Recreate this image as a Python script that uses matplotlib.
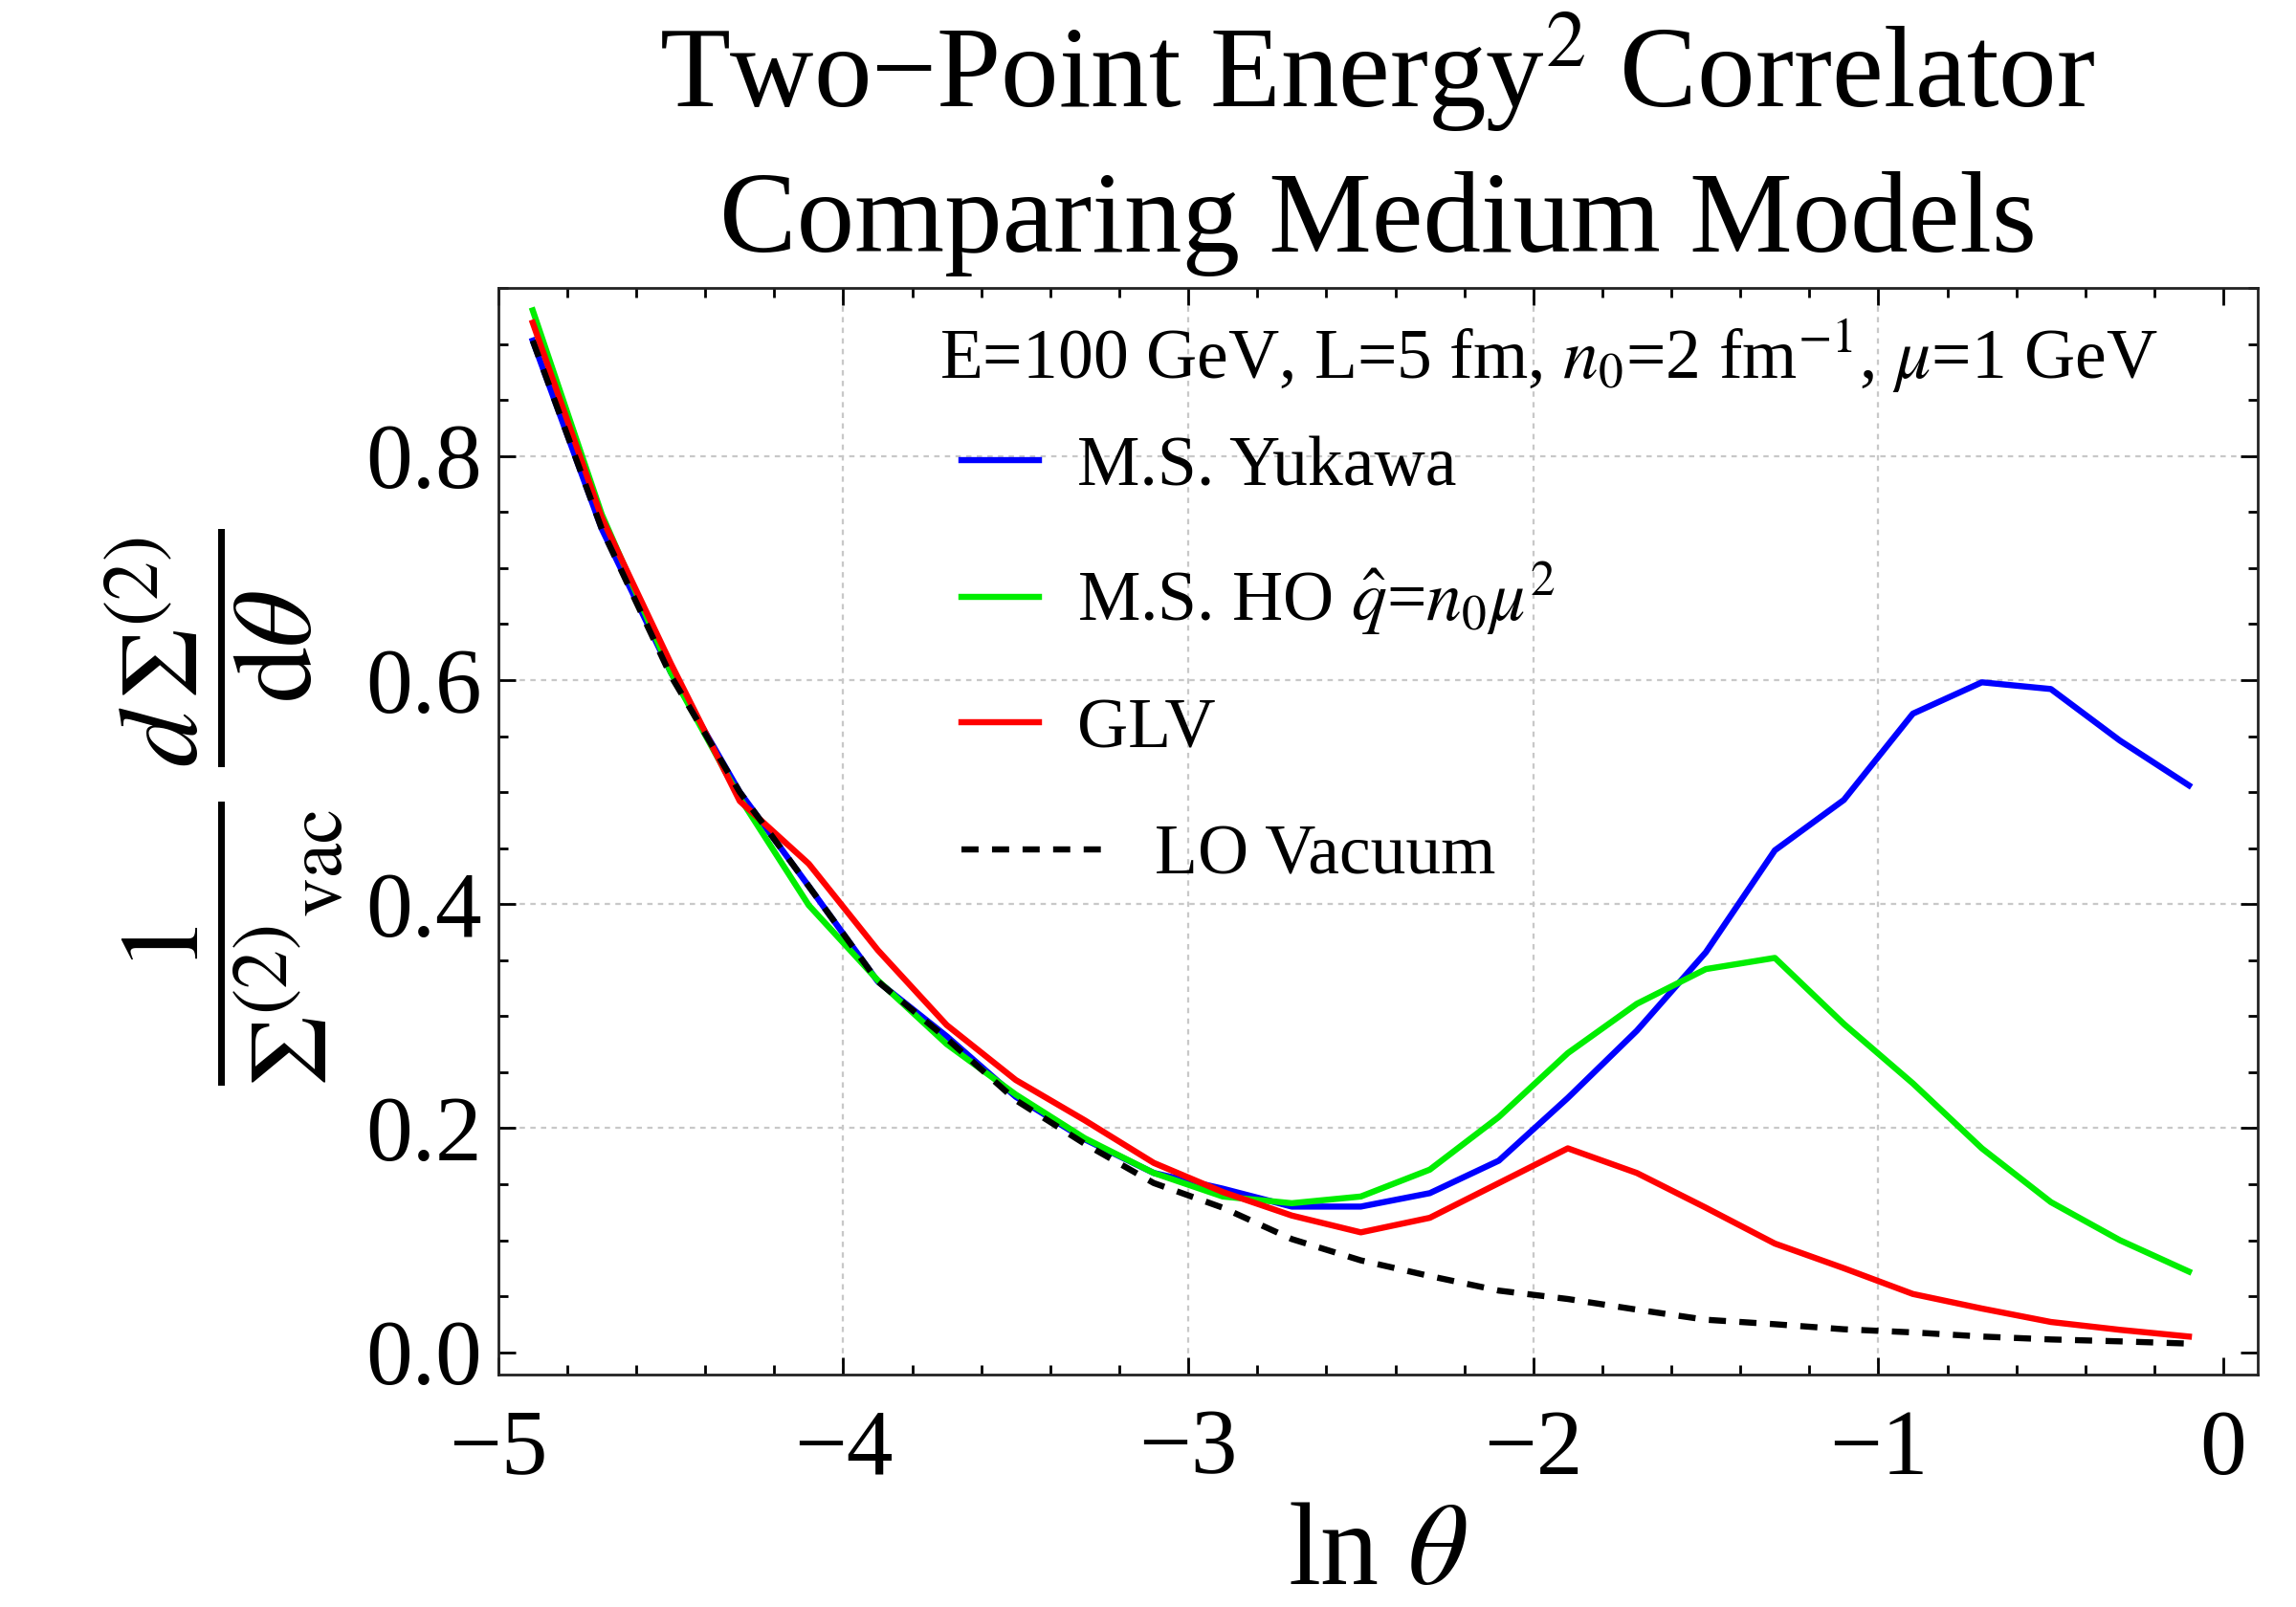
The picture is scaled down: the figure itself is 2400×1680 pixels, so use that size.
import matplotlib
matplotlib.use("Agg")
import matplotlib.pyplot as plt
from matplotlib.ticker import MultipleLocator, FormatStrFormatter

# ---- data ----
ln_theta = [-4.9, -4.7, -4.5, -4.3, -4.1, -3.9, -3.7, -3.5, -3.3, -3.1,
            -2.9, -2.7, -2.5, -2.3, -2.1, -1.9, -1.7, -1.5, -1.3, -1.1,
            -0.9, -0.7, -0.5, -0.3, -0.1]
ms_yukawa = [0.903, 0.735, 0.607, 0.500, 0.416, 0.331, 0.282, 0.228, 0.190, 0.160,
             0.146, 0.130, 0.130, 0.142, 0.171, 0.227, 0.287, 0.357, 0.448, 0.493,
             0.570, 0.598, 0.592, 0.546, 0.506]
ms_ho = [0.930, 0.748, 0.607, 0.495, 0.399, 0.332, 0.275, 0.230, 0.191, 0.160,
         0.139, 0.133, 0.139, 0.163, 0.210, 0.267, 0.311, 0.342, 0.352, 0.293,
         0.240, 0.182, 0.134, 0.100, 0.072]
glv = [0.919, 0.745, 0.615, 0.492, 0.436, 0.359, 0.292, 0.243, 0.207, 0.169,
       0.143, 0.122, 0.107, 0.120, 0.151, 0.182, 0.160, 0.129, 0.097, 0.075,
       0.052, 0.039, 0.027, 0.020, 0.014]
lo_vacuum = [0.903, 0.735, 0.604, 0.500, 0.416, 0.331, 0.280, 0.225, 0.186, 0.151,
             0.129, 0.101, 0.082, 0.068, 0.055, 0.0475, 0.038, 0.029, 0.025, 0.0205,
             0.0177, 0.014, 0.0114, 0.0097, 0.0077]

series_labels = ["M.S. Yukawa", r"M.S. HO $\hat{q}$=$n_0\mu^2$", "GLV", "LO Vacuum"]
header_text = r"E=100 GeV, L=5 fm, $n_0$=2 fm$^{-1}$, $\mu$=1 GeV"
title_lines = ["Two\u2212Point Energy$^2$ Correlator", "Comparing Medium Models"]
x_label = r"ln $\theta$"
y_label = (r"$\dfrac{1}{{\Sigma^{(2)}}_{\mathrm{vac}}}\;"
           r"\dfrac{d\,\Sigma^{(2)}}{\mathrm{d}\theta}$")

# ---- style ----
plt.rcParams["font.family"] = ["Liberation Serif", "DejaVu Serif"]
plt.rcParams["mathtext.fontset"] = "stix"
plt.rcParams["axes.unicode_minus"] = True

fig = plt.figure(figsize=(12, 8.4), dpi=200)
ax = fig.add_axes([0.217, 0.1446, 0.7664, 0.6762])

lw = 2.3
h1, = ax.plot(ln_theta, ms_yukawa, color="#0000ff", lw=lw, label=series_labels[0])
h2, = ax.plot(ln_theta, ms_ho, color="#00ee00", lw=lw, label=series_labels[1])
h3, = ax.plot(ln_theta, glv, color="#ff0000", lw=lw, label=series_labels[2])
h4, = ax.plot(ln_theta, lo_vacuum, color="black", lw=lw, linestyle=(0, (2.8, 2.2)),
              label=series_labels[3])

ax.set_xlim(-5.0, 0.1)
ax.set_ylim(-0.02, 0.95)

ax.xaxis.set_major_locator(MultipleLocator(1))
ax.xaxis.set_minor_locator(MultipleLocator(0.2))
ax.yaxis.set_major_locator(MultipleLocator(0.2))
ax.yaxis.set_minor_locator(MultipleLocator(0.05))
ax.yaxis.set_major_formatter(FormatStrFormatter("%.1f"))

ax.tick_params(which="both", direction="in", top=True, right=True,
               labelsize=35, width=1.0, color="black")
ax.tick_params(which="major", length=6.5)
ax.tick_params(which="minor", length=3.5)
ax.tick_params(axis="x", which="major", pad=13)
ax.tick_params(axis="y", which="major", pad=6)
for sp in ax.spines.values():
    sp.set_linewidth(1.0)
    sp.set_color("#222222")

ax.grid(True, which="major", color="#c8c8c8", linestyle=(0, (2.5, 2.5)), linewidth=0.8)
ax.set_axisbelow(True)
fig.canvas.draw()
for t in ax.xaxis.get_major_ticks():
    if abs(t.get_loc()) < 1e-9 or abs(t.get_loc() + 5) < 1e-9:
        t.gridline.set_visible(False)
for t in ax.yaxis.get_major_ticks():
    if abs(t.get_loc()) < 1e-9:
        t.gridline.set_visible(False)

ax.set_xlabel(x_label, fontsize=44, labelpad=3)
ax.set_ylabel(y_label, fontsize=42)
ax.yaxis.set_label_coords(-0.087, 0.522)

# title
fig.text(0.600, 1 - 112 / 1680, title_lines[0], fontsize=43.5, ha="center", va="baseline")
fig.text(0.600, 1 - 263 / 1680, title_lines[1], fontsize=43.5, ha="center", va="baseline")

# legend header and entries
ax.text(0.251, 0.937, header_text, transform=ax.transAxes, fontsize=26.5,
        ha="left", va="center")
leg1 = ax.legend(handles=[h1, h2, h3], loc="upper left", bbox_to_anchor=(0.263, 0.864),
                 frameon=False, fontsize=26.5, handlelength=1.1, handletextpad=0.55,
                 labelspacing=0.85, borderpad=0, borderaxespad=0)
ax.add_artist(leg1)
leg2 = ax.legend(handles=[h4], loc="upper left", bbox_to_anchor=(0.263, 0.506),
                 frameon=False, fontsize=26.5, handlelength=2.0, handletextpad=0.75,
                 borderpad=0, borderaxespad=0)

fig.savefig("out.png", dpi=200)
